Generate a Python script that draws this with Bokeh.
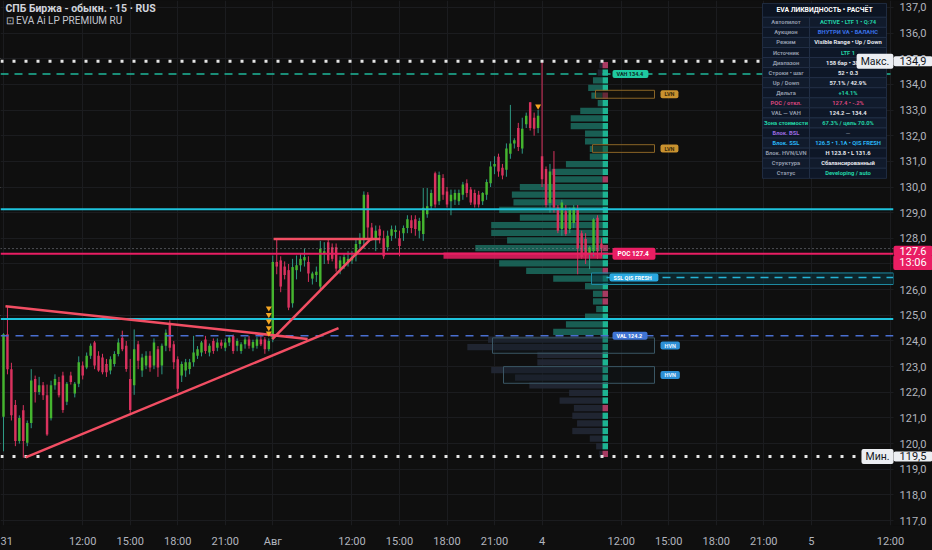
import numpy as np
from bokeh.plotting import figure
from bokeh.models import Range1d, FixedTicker, Label, Grid, GlobalInlineStyleSheet
from bokeh.core.properties import value
from bokeh.embed import file_html
from bokeh.resources import INLINE

FONT = "Roboto"
BG = "#0f0f0f"

# ---------------- data ----------------
tick_bars = [0, 20, 32, 44, 56, 68, 88, 100, 112, 124, 136, 156, 168, 180, 192, 204, 224]
tick_labels = ["31", "12:00", "15:00", "18:00", "21:00", "Авг", "12:00", "15:00", "18:00",
               "21:00", "4", "12:00", "15:00", "18:00", "21:00", "5", "12:00"]
price_ticks = list(range(117, 138))

opens = [
    121.05, 124.26, 122.90, 121.50, 120.10, 121.30, 120.03, 120.80, 122.52, 122.01,
    122.27, 121.88, 120.99, 122.27, 122.40, 122.65, 121.63, 122.65, 121.95, 122.33,
    123.04, 122.97, 123.42, 123.94, 123.42, 123.36, 123.10, 122.85, 123.10, 123.49,
    124.13, 123.81, 122.52, 122.27, 123.87, 122.85, 123.04, 123.42, 123.04, 123.68,
    123.04, 123.81, 124.70, 123.87, 123.29, 122.65, 122.85, 122.91, 123.17, 123.42,
    123.55, 124.06, 123.55, 124.00, 123.74, 123.94, 123.74, 123.94, 124.19, 123.81,
    123.61, 123.87, 124.06, 123.74, 123.81, 124.06, 124.06, 123.68,
    124.07, 127.08, 127.14, 126.90, 126.76, 125.47, 126.76, 126.95, 127.14, 127.08,
    126.43, 126.57, 126.12, 127.40, 127.85, 127.65, 127.65, 126.82, 127.00, 127.10,
    127.14, 127.33, 127.78, 127.97, 129.70, 128.42, 127.97, 128.35, 128.00, 127.65,
    128.10, 128.25, 128.00, 128.20, 128.40, 128.70, 128.74, 128.30, 128.17, 128.94,
    129.25, 130.54, 129.45, 130.35, 129.83, 129.45, 129.50, 129.45, 129.70, 130.15,
    129.90, 129.77, 129.70, 129.45, 129.70, 130.15, 130.80, 131.18, 130.75, 130.67,
    131.30, 131.70, 132.30, 131.50, 132.45, 133.30, 132.70, 132.30,
    131.20, 130.70, 129.38, 130.70, 129.20, 128.36, 129.06, 128.36, 128.60, 129.13,
    128.20, 127.97, 127.40, 127.50, 128.80, 127.80]
highs = [
    124.30, 125.35, 123.15, 121.70, 121.10, 121.50, 120.90, 122.90, 122.65, 122.60,
    122.40, 122.30, 122.45, 122.70, 122.60, 122.80, 122.40, 122.80, 122.40, 123.40,
    123.20, 123.55, 123.90, 124.00, 123.60, 123.50, 123.30, 123.40, 123.60, 124.10,
    124.40, 124.00, 123.30, 124.45, 124.00, 123.50, 123.60, 123.60, 124.10, 123.80,
    123.90, 124.45, 124.80, 124.00, 123.40, 123.20, 123.30, 123.30, 124.20, 123.80,
    124.00, 124.20, 123.90, 124.10, 124.10, 124.05, 124.10, 124.20, 124.25, 124.10,
    123.95, 124.15, 124.20, 124.05, 124.15, 124.20, 124.15, 124.10,
    127.33, 127.97, 127.30, 127.10, 127.00, 127.20, 127.33, 127.40, 127.60, 127.30,
    126.70, 126.90, 127.90, 127.85, 127.95, 127.80, 127.80, 127.30, 127.40, 127.50,
    127.50, 128.00, 128.20, 129.83, 129.80, 128.60, 128.50, 128.50, 128.30, 128.30,
    128.50, 128.50, 128.30, 128.50, 128.90, 128.90, 128.90, 128.80, 129.96, 129.96,
    129.90, 130.60, 130.60, 130.50, 130.00, 129.90, 129.90, 129.90, 130.20, 130.30,
    130.00, 129.90, 129.85, 129.80, 130.30, 131.00, 131.20, 131.30, 130.90, 131.70,
    133.20, 131.90, 132.50, 132.70, 132.90, 133.30, 132.90, 133.00,
    134.90, 130.80, 130.90, 131.40, 129.30, 129.50, 129.30, 129.20, 129.30, 129.30,
    128.30, 128.20, 127.70, 128.80, 128.90, 128.00]
lows = [
    119.70, 122.70, 120.90, 119.90, 120.00, 119.45, 119.90, 120.60, 121.60, 121.90,
    121.70, 120.30, 120.90, 122.10, 121.80, 121.20, 121.50, 122.30, 121.80, 122.20,
    122.50, 122.90, 123.30, 122.90, 122.80, 122.70, 122.60, 122.70, 123.00, 123.40,
    123.60, 122.80, 121.20, 121.90, 122.90, 122.60, 122.90, 122.80, 122.90, 122.60,
    122.70, 123.60, 123.60, 122.90, 122.00, 122.40, 122.60, 122.70, 123.00, 123.30,
    123.40, 123.50, 123.40, 123.50, 123.60, 123.70, 123.60, 123.80, 123.50, 123.60,
    123.50, 123.70, 123.70, 123.60, 123.70, 123.80, 123.50, 123.60,
    123.95, 126.60, 125.90, 126.40, 125.20, 125.30, 126.40, 126.70, 126.90, 126.30,
    126.20, 126.30, 126.00, 127.00, 127.00, 127.10, 126.70, 126.60, 126.80, 126.90,
    127.00, 127.10, 127.60, 127.60, 128.00, 127.90, 127.50, 127.80, 127.20, 127.50,
    127.90, 128.00, 127.30, 127.90, 128.20, 128.20, 128.10, 128.00, 127.90, 128.80,
    129.10, 129.20, 129.30, 129.50, 129.20, 128.90, 129.30, 129.30, 129.50, 129.60,
    129.30, 129.20, 129.20, 129.30, 129.50, 130.00, 130.50, 130.40, 130.30, 130.40,
    131.10, 131.50, 131.40, 131.30, 132.30, 132.20, 132.00, 132.10,
    130.00, 129.20, 129.00, 129.00, 128.20, 128.10, 128.10, 128.20, 128.40, 126.60,
    127.20, 127.00, 126.80, 127.30, 127.20, 127.30]
closes = [
    124.26, 122.90, 121.10, 120.10, 121.00, 120.10, 120.80, 122.46, 122.01, 122.27,
    121.88, 120.35, 122.27, 122.52, 121.88, 121.31, 122.33, 122.40, 122.33, 123.17,
    122.65, 123.42, 123.81, 123.04, 122.85, 122.78, 122.78, 123.29, 123.49, 123.94,
    123.68, 122.91, 121.31, 123.68, 123.23, 123.36, 123.42, 122.97, 123.94, 122.97,
    123.81, 124.32, 123.74, 123.17, 122.14, 123.10, 123.17, 123.17, 123.55, 123.68,
    123.94, 123.61, 123.81, 123.61, 123.94, 123.81, 123.94, 124.13, 123.61, 124.00,
    123.87, 124.06, 123.81, 123.96, 124.06, 123.87, 123.68, 124.00,
    127.08, 126.90, 126.12, 126.57, 125.30, 126.88, 126.95, 127.20, 127.27, 126.63,
    126.63, 126.70, 127.59, 127.50, 127.14, 127.20, 126.82, 127.14, 127.27, 127.20,
    127.27, 127.78, 127.97, 129.70, 128.42, 127.97, 128.30, 128.10, 127.30, 128.10,
    128.35, 128.32, 127.70, 128.40, 128.74, 128.40, 128.36, 128.68, 129.19, 129.25,
    129.77, 129.32, 130.47, 129.70, 129.32, 129.70, 129.77, 129.77, 130.10, 129.77,
    129.40, 129.32, 129.32, 129.77, 130.20, 130.80, 130.90, 130.60, 130.45, 131.50,
    131.70, 131.82, 131.56, 132.27, 132.78, 132.30, 132.27, 132.78,
    130.30, 129.30, 130.60, 129.20, 128.30, 129.40, 128.17, 129.13, 129.20, 127.60,
    127.27, 127.33, 127.65, 128.74, 127.50, 127.60]

profile_low = 119.45
profile_high = 134.90
profile_volume = [2, 4, 8, 19, 16, 19, 18, 27, 21, 46,
                  55, 70, 41, 41, 85, 72, 31, 23, 11, 4,
                  6, 6, 11, 31, 48, 65, 100, 80, 60, 70,
                  70, 52, 65, 56, 57, 52, 31, 32, 23, 8,
                  8, 11, 11, 20, 20, 14, 3, 7, 9, 6, 3, 2]
profile_delta = [-1, 1, 1, 1, 1, 1, -1, 1, 1, 1,
                 1, 1, 1, 1, 1, 1, 1, 1, 1, 1,
                 -1, -1, 1, 1, -1, 1, 1, -1, 1, 1,
                 1, 1, 1, 1, 1, 1, -1, 1, 1, 1,
                 1, 1, 1, 1, 1, 1, 1, -1, 1, 1, 1, -1]
poc = 127.4
val = 124.2
vah = 134.4
price_max = 134.9
price_min = 119.5
last_price = 127.6
countdown = "13:06"
cyan_levels = [129.13, 124.86]
ssl_zone = [126.20, 126.65]
ssl_level = 126.47
lvn_low = [133.46, 131.35]
lvn_high = [133.77, 131.65]
hvn_low = [123.52, 122.35]
hvn_high = [124.12, 123.00]
signal_bars = [67, 67, 67, 67, 67, 135]
signal_prices = [125.28, 125.02, 124.77, 124.51, 124.30, 133.15]
tl_x0 = [0.5, 5.6, 67.9, 68.2]
tl_y0 = [125.35, 119.46, 124.07, 127.97]
tl_x1 = [76.8, 84.6, 92.7, 95.2]
tl_y1 = [124.08, 124.50, 127.97, 127.97]

table_title = "EVA ЛИКВИДНОСТЬ • РАСЧЁТ"
table_keys = ["Автопилот", "Аукцион", "Режим", "Источник", "Диапазон", "Строки • шаг",
              "Up / Down", "Дельта", "POC / откл.", "VAL — VAH", "Зона стоимости",
              "Блок. BSL", "Блок. SSL", "Блок. HVN/LVN", "Структура", "Статус"]
table_vals = ["ACTIVE • LTF 1 • Q:74", "ВНУТРИ VA • БАЛАНС", "Visible Range • Up / Down",
              "LTF 1", "158 бар • 3825 т", "52 • 0.3", "57.1% / 42.9%", "+14.1%",
              "127.4 • -.2%", "124.2 — 134.4", "67.3% / цель 70.0%", "—",
              "126.5 • 1.1A • QIS FRESH", "H 123.8 • L 131.6", "Сбалансированный",
              "Developing / auto"]
TEAL_T = "#22d3a6"
WHITE_T = "#e6e8ee"
KEY_T = "#8e97a8"
key_colors = [KEY_T] * 8 + ["#d6457c", KEY_T, TEAL_T, "#9b6be0", "#29b6f6", KEY_T, KEY_T, KEY_T]
val_colors = [TEAL_T, "#3a72e8", WHITE_T, TEAL_T, WHITE_T, WHITE_T, WHITE_T, TEAL_T,
              "#d6457c", WHITE_T, TEAL_T, "#6b7280", "#29b6f6", WHITE_T, WHITE_T, TEAL_T]


# pixel -> data helpers for decorative placement (reference geometry)
def X(px):
    return (px - 3.0) / 3.96


def Y(py):
    return 120.0 + (449.0 - py) / 26.0


p = figure(width=932, height=550, output_backend="svg", toolbar_location=None, tools="",
           x_range=Range1d(X(0), X(932)), y_range=Range1d(Y(532), Y(0)),
           y_axis_location=None, min_border_left=0, min_border_top=0,
           min_border_right=0, min_border_bottom=18)
p.background_fill_color = BG
p.border_fill_color = BG
p.outline_line_color = None
p.stylesheets = [GlobalInlineStyleSheet(
    css="html, body { background-color: #0f0f0f; margin: 0; padding: 0; overflow: hidden; }")]

p.xaxis.ticker = FixedTicker(ticks=tick_bars)
p.xaxis.major_label_overrides = {t: s for t, s in zip(tick_bars, tick_labels)}
p.xaxis.axis_line_color = None
p.xaxis.major_tick_line_color = None
p.xaxis.minor_tick_line_color = None
p.xaxis.major_label_text_color = "#b2b5be"
p.xaxis.major_label_text_font = FONT
p.xaxis.major_label_text_font_size = "11px"
p.xaxis.major_label_standoff = 3
GRID = "#1b1c1f"
p.xgrid.grid_line_color = GRID
p.add_layout(Grid(dimension=1, ticker=FixedTicker(ticks=price_ticks), grid_line_color=GRID))

xmin, xmax = p.x_range.start, p.x_range.end
scale_left = X(893)            # left edge of the price scale column

# ---------------- volume profile ----------------
n_rows = len(profile_volume)
row_h = (profile_high - profile_low) / n_rows
k = np.arange(n_rows)
row_bot = profile_low + k * row_h
row_top = row_bot + row_h
centers = row_bot + row_h / 2
poc_row = int((poc - profile_low) // row_h)
prof_right = X(602)
vol_scale = (X(602) - X(443)) / max(profile_volume)
vols = np.array(profile_volume, dtype=float)
lefts = prof_right - vols * vol_scale
gap = row_h * 0.09
pcol, palpha = [], []
for i in k:
    if i == poc_row:
        pcol.append("#e91e63"); palpha.append(0.85)
    elif val <= centers[i] <= vah:
        pcol.append("#1a6357"); palpha.append(0.95)
    else:
        pcol.append("#222835"); palpha.append(0.9)
p.quad(left=lefts, right=prof_right, bottom=row_bot + gap, top=row_top - gap,
       fill_color=pcol, fill_alpha=palpha, line_color=None)
p.quad(left=X(602), right=X(607.5), bottom=row_bot + gap, top=row_top - gap,
       fill_color=["#1fc7a1" if s > 0 else "#b8406c" for s in profile_delta],
       fill_alpha=0.9, line_color=None)

# zones
p.quad(left=X(591), right=scale_left, bottom=ssl_zone[0], top=ssl_zone[1],
       fill_color="#0b3642", fill_alpha=0.55, line_color="#1d8aa2", line_width=1)
p.quad(left=[X(595), X(592)], right=X(654), bottom=lvn_low, top=lvn_high,
       fill_color="#1a1407", fill_alpha=0.45, line_color="#8a6526", line_width=1)
p.quad(left=[X(492), X(503)], right=X(654), bottom=hvn_low, top=hvn_high,
       fill_color="#121a22", fill_alpha=0.3, line_color="#3a5664", line_width=1)

# ---------------- candles ----------------
idx = np.arange(len(closes))
o, h, lo, c = (np.array(a, dtype=float) for a in (opens, highs, lows, closes))
up = c >= o
body_col = np.where(up, "#45b52f", "#d9325e")
wick_col = np.where(up, "#2e9a84", "#d9325e")
top_b = np.maximum(o, c)
bot_b = np.minimum(o, c)
top_b = np.where(top_b - bot_b < 0.05, bot_b + 0.05, top_b)
p.segment(x0=idx, y0=h, x1=idx, y1=lo, line_color=wick_col, line_width=1)
p.vbar(x=idx, top=top_b, bottom=bot_b, width=0.62, fill_color=body_col, line_color=None)

# ---------------- levels ----------------
p.segment(x0=xmin, y0=last_price, x1=scale_left, y1=last_price, line_color="#8a8d96",
          line_width=1, line_dash="1 3")
p.segment(x0=[xmin, xmin], y0=cyan_levels, x1=[scale_left, scale_left], y1=cyan_levels,
          line_color="#1ec3dc", line_width=2)
p.segment(x0=xmin, y0=poc, x1=scale_left, y1=poc, line_color="#e91e63", line_width=2)
p.segment(x0=xmin, y0=vah, x1=scale_left, y1=vah, line_color="#1fb89a", line_width=1.5,
          line_dash="8 6")
p.segment(x0=xmin, y0=val, x1=scale_left, y1=val, line_color="#4a6fd0", line_width=1.5,
          line_dash="8 7")
p.segment(x0=X(606), y0=ssl_level, x1=scale_left, y1=ssl_level, line_color="#26b3d6",
          line_width=1.5, line_dash="8 6")
p.segment(x0=[xmin, xmin], y0=[price_max, price_min], x1=[scale_left, scale_left],
          y1=[price_max, price_min], line_color="#e6e6e6", line_width=3, line_dash="3 9")

# drawings & signals
p.segment(x0=tl_x0, y0=tl_y0, x1=tl_x1, y1=tl_y1, line_color="#f24e63", line_width=2.5)
p.scatter(x=signal_bars, y=signal_prices, marker="inverted_triangle", size=6,
          fill_color="#f5a623", line_color=None)

# ---------------- info table ----------------
tx0, tx1, tx2 = X(762), X(809), X(886)
ql, qr, qt, qb, qc = [], [], [], [], []
ql.append(tx0); qr.append(tx2); qt.append(Y(3)); qb.append(Y(17)); qc.append("#0c1422")
row_px = 10.2
for i in range(len(table_keys)):
    t_, b_ = Y(17 + row_px * i), Y(17 + row_px * (i + 1))
    shade = "#111b2c" if i % 2 == 0 else "#0e1727"
    ql += [tx0, tx1]; qr += [tx1, tx2]; qt += [t_, t_]; qb += [b_, b_]; qc += [shade, shade]
p.quad(left=ql, right=qr, top=qt, bottom=qb, fill_color=qc, line_color="#25324a",
       line_width=0.8)
p.text(x=[(tx0 + tx2) / 2], y=[Y(10)], text=[table_title], text_color="#ffffff",
       text_font=value(FONT), text_font_size="6.8px", text_font_style="bold",
       text_align="center", text_baseline="middle")
row_y = [Y(17 + row_px * (i + 0.5)) for i in range(len(table_keys))]
p.text(x=[(tx0 + tx1) / 2] * len(table_keys), y=row_y, text=table_keys, text_color=key_colors,
       text_font=value(FONT), text_font_size="5.8px", text_font_style="bold",
       text_align="center", text_baseline="middle")
p.text(x=[(tx1 + tx2) / 2] * len(table_vals), y=row_y, text=table_vals, text_color=val_colors,
       text_font=value(FONT), text_font_size="5.8px", text_font_style="bold",
       text_align="center", text_baseline="middle")

# ---------------- price scale (right) ----------------
p.quad(left=scale_left, right=xmax, bottom=p.y_range.start, top=p.y_range.end,
       fill_color=BG, line_color=None)
p.text(x=[X(912.5)] * len(price_ticks), y=price_ticks,
       text=[f"{t},0" for t in price_ticks], text_color="#b2b5be",
       text_font=value(FONT), text_font_size="11px", text_align="center",
       text_baseline="middle")


# ---------------- labels ----------------
def tag(x, y, text, bg, fg, size="5.5px", align="left", pad=(4, 1), style="bold"):
    p.add_layout(Label(x=x, y=y, text=text, text_color=fg, text_font=FONT,
                       text_font_size=size, text_font_style=style, text_align=align,
                       text_baseline="middle", background_fill_color=bg,
                       padding=pad, border_radius=2))


tag(X(612), vah, f"VAH  {vah}", "#1fc9a0", "#0b2a22")
tag(X(660), (lvn_low[0] + lvn_high[0]) / 2, "LVN", "#c9922f", "#3a2a0a")
tag(X(660), (lvn_low[1] + lvn_high[1]) / 2, "LVN", "#c9922f", "#3a2a0a")
tag(X(612), poc, f"POC  {poc}", "#e91e63", "#ffffff", size="6.5px", pad=(5, 2))
tag(X(609), ssl_level, "SSL  QIS  FRESH", "#2aa8e0", "#ffffff")
tag(X(612), val, f"VAL  {val}", "#3f74d4", "#ffffff")
tag(X(660), (hvn_low[0] + hvn_high[0]) / 2, "HVN", "#2d8fd5", "#e8f2ff")
tag(X(660), (hvn_low[1] + hvn_high[1]) / 2, "HVN", "#2d8fd5", "#e8f2ff")

tag(X(874.5), price_max, "Макс.", "#eceef2", "#131722", size="10.5px", align="center",
    pad=(4, 1), style="normal")
tag(X(877), price_min, "Мин.", "#eceef2", "#131722", size="10.5px", align="center",
    pad=(4, 1), style="normal")
tag(X(912.5), price_max, "134,9", "#eceef2", "#131722", size="11px", align="center",
    pad=(6, 1), style="normal")
tag(X(912.5), price_min, "119,5", "#eceef2", "#131722", size="11px", align="center",
    pad=(6, 1), style="normal")
tag(X(912.5), Y(253.5), f"{last_price:.1f}".replace(".", ","), "#e91e63", "#ffffff",
    size="11px", align="center", pad=(6, 1), style="normal")
tag(X(912.5), Y(265.5), countdown, "#e91e63", "#ffffff", size="11px", align="center",
    pad=(6, 1), style="normal")

p.add_layout(Label(x=X(5), y=Y(8), text="СПБ Биржа - обыкн. · 15 · RUS", text_color="#d1d4dc",
                   text_font=FONT, text_font_size="10.5px", text_font_style="bold",
                   text_baseline="middle"))
p.add_layout(Label(x=X(5), y=Y(20), text="⊡ EVA Ai LP PREMIUM RU", text_color="#c3c6cf",
                   text_font=FONT, text_font_size="10px", text_baseline="middle"))

open("out.html", "w").write(file_html(p, INLINE))
